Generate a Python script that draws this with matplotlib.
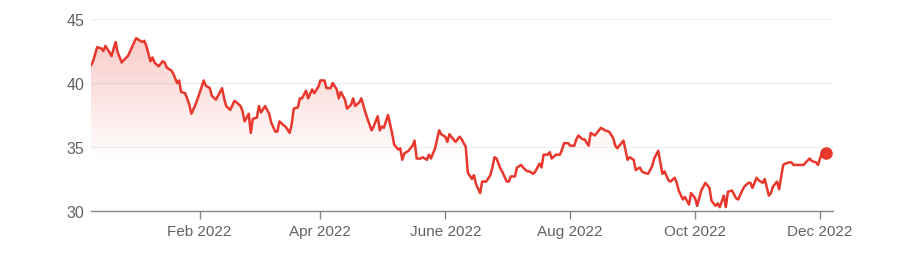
import numpy as np
import pandas as pd
import matplotlib
matplotlib.use("Agg")
import matplotlib.pyplot as plt
from matplotlib.patches import Polygon

plt.rcParams['font.family'] = ['Liberation Sans', 'DejaVu Sans']

# price history (date, close)
dates = [
    "2021-12-10", "2021-12-11", "2021-12-13", "2021-12-15", "2021-12-16", "2021-12-17",
    "2021-12-19", "2021-12-20", "2021-12-22", "2021-12-23", "2021-12-25", "2021-12-26",
    "2021-12-28", "2021-12-30", "2022-01-01", "2022-01-02", "2022-01-04", "2022-01-05",
    "2022-01-06", "2022-01-08", "2022-01-09", "2022-01-10", "2022-01-12", "2022-01-14",
    "2022-01-15", "2022-01-16", "2022-01-18", "2022-01-19", "2022-01-21", "2022-01-22",
    "2022-01-23", "2022-01-25", "2022-01-27", "2022-01-28", "2022-01-30", "2022-02-01",
    "2022-02-03", "2022-02-04", "2022-02-06", "2022-02-07", "2022-02-09", "2022-02-10",
    "2022-02-12", "2022-02-13", "2022-02-14", "2022-02-16", "2022-02-18", "2022-02-19",
    "2022-02-21", "2022-02-22", "2022-02-23", "2022-02-25", "2022-02-26", "2022-02-27",
    "2022-03-01", "2022-03-02", "2022-03-03", "2022-03-05", "2022-03-07", "2022-03-08",
    "2022-03-10", "2022-03-11", "2022-03-12", "2022-03-14", "2022-03-15", "2022-03-17",
    "2022-03-18", "2022-03-19", "2022-03-21", "2022-03-22", "2022-03-23", "2022-03-25",
    "2022-03-26", "2022-03-28", "2022-03-29", "2022-03-31", "2022-04-01", "2022-04-03",
    "2022-04-04", "2022-04-06", "2022-04-07", "2022-04-09", "2022-04-10", "2022-04-11",
    "2022-04-13", "2022-04-14", "2022-04-16", "2022-04-17", "2022-04-18", "2022-04-20",
    "2022-04-21", "2022-04-23", "2022-04-24", "2022-04-26", "2022-04-27", "2022-04-29",
    "2022-04-30", "2022-05-01", "2022-05-02", "2022-05-04", "2022-05-06", "2022-05-07",
    "2022-05-09", "2022-05-10", "2022-05-11", "2022-05-12", "2022-05-14", "2022-05-16",
    "2022-05-17", "2022-05-18", "2022-05-20", "2022-05-21", "2022-05-23", "2022-05-24",
    "2022-05-25", "2022-05-27", "2022-05-29", "2022-05-30", "2022-06-01", "2022-06-02",
    "2022-06-03", "2022-06-05", "2022-06-06", "2022-06-08", "2022-06-09", "2022-06-11",
    "2022-06-12", "2022-06-14", "2022-06-15", "2022-06-16", "2022-06-18", "2022-06-19",
    "2022-06-21", "2022-06-23", "2022-06-24", "2022-06-25", "2022-06-26", "2022-06-28",
    "2022-06-29", "2022-07-01", "2022-07-02", "2022-07-03", "2022-07-05", "2022-07-06",
    "2022-07-08", "2022-07-09", "2022-07-11", "2022-07-12", "2022-07-14", "2022-07-15",
    "2022-07-17", "2022-07-18", "2022-07-19", "2022-07-21", "2022-07-22", "2022-07-23",
    "2022-07-25", "2022-07-27", "2022-07-28", "2022-07-29", "2022-07-31", "2022-08-01",
    "2022-08-03", "2022-08-04", "2022-08-05", "2022-08-07", "2022-08-08", "2022-08-10",
    "2022-08-11", "2022-08-13", "2022-08-15", "2022-08-16", "2022-08-17", "2022-08-18",
    "2022-08-20", "2022-08-22", "2022-08-23", "2022-08-24", "2022-08-26", "2022-08-27",
    "2022-08-29", "2022-08-30", "2022-09-01", "2022-09-02", "2022-09-04", "2022-09-05",
    "2022-09-06", "2022-09-08", "2022-09-10", "2022-09-11", "2022-09-13", "2022-09-15",
    "2022-09-16", "2022-09-18", "2022-09-19", "2022-09-21", "2022-09-22", "2022-09-23",
    "2022-09-25", "2022-09-26", "2022-09-28", "2022-09-29", "2022-10-01", "2022-10-02",
    "2022-10-04", "2022-10-05", "2022-10-06", "2022-10-08", "2022-10-09", "2022-10-11",
    "2022-10-12", "2022-10-13", "2022-10-15", "2022-10-16", "2022-10-17", "2022-10-19",
    "2022-10-21", "2022-10-22", "2022-10-24", "2022-10-25", "2022-10-27", "2022-10-28",
    "2022-10-29", "2022-10-31", "2022-11-01", "2022-11-03", "2022-11-04", "2022-11-06",
    "2022-11-07", "2022-11-08", "2022-11-10", "2022-11-11", "2022-11-13", "2022-11-14",
    "2022-11-16", "2022-11-17", "2022-11-18", "2022-11-20", "2022-11-23", "2022-11-24",
    "2022-11-26", "2022-11-27", "2022-11-29", "2022-11-30", "2022-12-02", "2022-12-03",
    "2022-12-04",
]
prices = [
    41.4, 41.7, 42.8, 42.7, 42.5, 42.9,
    42.4, 42.1, 43.2, 42.4, 41.6, 41.8,
    42.1, 42.8, 43.5, 43.4, 43.2, 43.3,
    42.9, 41.7, 42.0, 41.6, 41.3, 41.7,
    41.6, 41.2, 41.0, 40.8, 40.0, 40.2,
    39.3, 39.2, 38.3, 37.6, 38.3, 39.2,
    40.2, 39.8, 39.6, 39.0, 38.7, 39.0,
    39.6, 38.8, 38.2, 37.9, 38.6, 38.5,
    38.2, 37.8, 37.0, 37.6, 36.1, 37.2,
    37.3, 38.2, 37.7, 38.2, 37.6, 36.9,
    36.2, 36.2, 37.0, 36.7, 36.6, 36.1,
    36.8, 38.0, 38.1, 38.8, 38.8, 39.4,
    38.8, 39.5, 39.2, 39.7, 40.2, 40.2,
    39.6, 39.6, 40.0, 39.5, 38.8, 39.3,
    38.7, 38.0, 38.3, 38.8, 38.2, 38.5,
    38.8, 37.7, 37.2, 36.3, 36.6, 37.4,
    36.3, 36.6, 36.5, 37.5, 36.1, 35.2,
    34.8, 34.9, 34.0, 34.5, 34.7, 35.1,
    35.5, 34.1, 34.1, 34.2, 34.0, 34.4,
    34.1, 34.9, 36.3, 36.0, 35.8, 35.4,
    36.0, 35.6, 35.4, 35.8, 35.6, 35.0,
    33.0, 32.5, 32.8, 32.1, 31.4, 32.3,
    32.3, 32.8, 33.4, 34.2, 34.1, 33.3,
    33.0, 32.3, 32.3, 32.7, 32.7, 33.4,
    33.6, 33.4, 33.1, 33.1, 32.9, 33.1,
    33.7, 33.4, 34.4, 34.4, 34.6, 34.1,
    34.4, 34.4, 34.8, 35.3, 35.3, 35.1,
    35.1, 35.6, 35.9, 35.6, 35.6, 35.1,
    36.1, 35.9, 36.3, 36.5, 36.4, 36.3,
    36.2, 35.7, 35.1, 34.9, 35.3, 35.5,
    34.0, 34.2, 34.0, 33.2, 33.4, 33.1,
    33.0, 32.9, 33.5, 34.1, 34.7, 32.9,
    33.1, 32.4, 32.3, 32.6, 32.2, 31.6,
    30.9, 31.1, 30.5, 31.4, 31.0, 30.4,
    31.6, 31.9, 32.2, 31.8, 30.8, 30.4,
    30.6, 30.3, 31.2, 30.3, 31.5, 31.6,
    31.0, 30.9, 31.6, 31.9, 32.2, 32.2,
    31.8, 32.6, 32.4, 32.2, 32.5, 31.2,
    31.4, 31.9, 32.3, 31.7, 33.6, 33.7,
    33.8, 33.8, 33.6, 33.6, 33.6, 33.8,
    34.1, 33.9, 33.8, 33.6, 34.6, 34.6,
    34.5,
]

tick_dates = ["2022-02-01", "2022-04-01", "2022-06-01", "2022-08-01", "2022-10-01", "2022-12-01"]
tick_labels = ["Feb 2022", "Apr 2022", "June 2022", "Aug 2022", "Oct 2022", "Dec 2022"]
y_ticks = [30, 35, 40, 45]

RED = "#e8372c"
GREY_TXT = "#5f6368"

x = pd.to_datetime(dates)
x_num = matplotlib.dates.date2num(x)

fig = plt.figure(figsize=(9.03, 2.55), dpi=100)
ax = fig.add_axes([0.1008, 0.1686, 0.8217, 0.753])

x_lo = matplotlib.dates.date2num(pd.Timestamp("2021-12-10"))
x_hi = matplotlib.dates.date2num(pd.Timestamp("2022-12-07 08:00"))
ax.set_xlim(x_lo, x_hi)
ax.set_ylim(30, 45)

# gradient fill under the line
grad = np.linspace(1, 0, 256).reshape(-1, 1)
alpha = np.clip((grad * 15 - 4.0) / 11.0, 0, 1) * 0.3
rgba = np.zeros((256, 1, 4))
rgba[..., :3] = matplotlib.colors.to_rgb(RED)
rgba[..., 3] = alpha
img = ax.imshow(rgba, extent=[x_lo, x_hi, 30, 45], aspect='auto', zorder=1, interpolation='bilinear')
verts = list(zip(x_num, prices)) + [(x_num[-1], 30), (x_num[0], 30)]
clip = Polygon(verts, closed=True, facecolor='none', edgecolor='none')
ax.add_patch(clip)
img.set_clip_path(clip)

ax.plot(x_num, prices, color=RED, lw=1.8, zorder=3, solid_joinstyle='round')
ax.plot(x_num[-1], prices[-1], 'o', color=RED, ms=8, zorder=4)

ax.set_yticks(y_ticks)
ax.set_yticklabels([str(v) for v in y_ticks])
ax.set_xticks(matplotlib.dates.date2num(pd.to_datetime(tick_dates)))
ax.set_xticklabels(tick_labels)

ax.grid(axis='y', color="#eeeeee", lw=0.9, zorder=0)
ax.set_axisbelow(True)
for s in ['left', 'right', 'top']:
    ax.spines[s].set_visible(False)
ax.spines['bottom'].set_color("#80868b")
ax.spines['bottom'].set_linewidth(1.0)
ax.tick_params(axis='y', length=0, pad=5, labelsize=11.5, labelcolor=GREY_TXT)
ax.tick_params(axis='x', length=6, width=1, color="#80868b", pad=3, labelsize=11, labelcolor=GREY_TXT)

fig.savefig("out.png", dpi=100)
